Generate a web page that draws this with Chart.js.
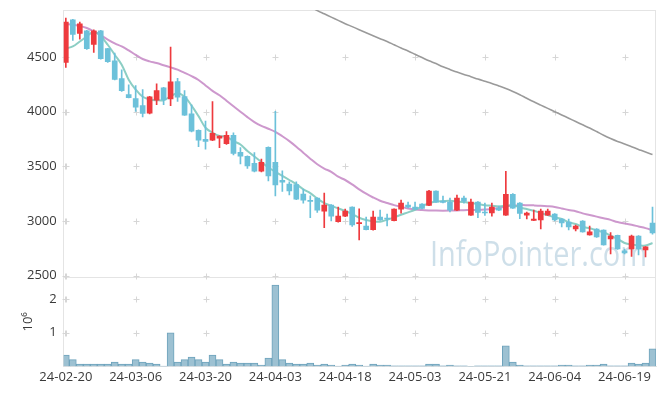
<!DOCTYPE html>
<html lang="ko">
<head>
<meta charset="UTF-8">
<title>Daily candles 24-02-20 ~ 24-06-25</title>
<script src="https://cdn.jsdelivr.net/npm/chart.js"></script>
<style>
  body { margin: 0; background: #fff; }
</style>
</head>
<body>
<canvas id="chart" width="665" height="396"></canvas>
<script>
const dates = [
  '24-02-20','24-02-21','24-02-22','24-02-23','24-02-26','24-02-27','24-02-28','24-02-29',
  '24-03-04','24-03-05','24-03-06','24-03-07','24-03-08','24-03-11','24-03-12','24-03-13','24-03-14','24-03-15',
  '24-03-18','24-03-19','24-03-20','24-03-21','24-03-22','24-03-25','24-03-26','24-03-27','24-03-28','24-03-29',
  '24-04-01','24-04-02','24-04-03','24-04-04','24-04-05','24-04-08','24-04-09','24-04-11','24-04-12','24-04-15',
  '24-04-16','24-04-17','24-04-18','24-04-19','24-04-22','24-04-23','24-04-24','24-04-25','24-04-26','24-04-29','24-04-30',
  '24-05-02','24-05-03','24-05-07','24-05-08','24-05-09','24-05-10','24-05-13','24-05-14','24-05-16','24-05-17',
  '24-05-20','24-05-21','24-05-22','24-05-23','24-05-24','24-05-27','24-05-28','24-05-29','24-05-30','24-05-31',
  '24-06-03','24-06-04','24-06-05','24-06-07','24-06-10','24-06-11','24-06-12','24-06-13','24-06-14','24-06-17',
  '24-06-18','24-06-19','24-06-20','24-06-21','24-06-24','24-06-25'
];

const opens = [
  4451,4840,4715,4740,4615,4740,4576,4466,4302,4157,
  4120,4056,3986,4105,4218,4117,4275,4138,3981,3829,
  3747,3740,3758,3707,3783,3628,3592,3528,3455,3674,
  3537,3373,3337,3334,3246,3185,3209,3090,3145,2993,
  3045,3127,2975,2954,2920,3036,3027,3003,3109,3145,
  3127,3155,3143,3273,3182,3173,3100,3209,3054,3173,
  3082,3073,3118,3054,3245,3164,3054,3006,3009,3054,
  3063,3018,2991,2927,3000,2872,2927,2918,2836,2868,
  2726,2744,2863,2735,2982
];
const highs = [
  4855,4845,4819,4745,4749,4745,4580,4536,4382,4245,
  4239,4202,4140,4254,4222,4591,4305,4193,4063,3835,
  3913,4093,3780,3819,3807,3671,3596,3626,3567,3678,
  4004,3458,3358,3358,3291,3230,3212,3255,3150,3127,
  3109,3130,3112,3036,3090,3100,3063,3112,3191,3173,
  3173,3160,3280,3276,3227,3209,3236,3227,3200,3178,
  3164,3164,3136,3455,3250,3168,3082,3100,3109,3109,
  3068,3022,3018,2963,3003,2954,2930,2920,2895,2872,
  2744,2872,2866,2766,3127
];
const lows = [
  4405,4651,4664,4570,4542,4480,4450,4290,4185,4125,
  4002,3953,3980,4063,4063,4054,4093,3965,3815,3680,
  3656,3735,3671,3700,3604,3522,3480,3450,3450,3367,
  3230,3270,3239,3195,3163,3030,3079,2939,3000,2990,
  3040,2950,2826,2918,2915,3005,2954,3000,3072,3120,
  3105,3110,3140,3170,3165,3083,3095,3163,3050,3030,
  3050,3045,3095,3050,3115,3022,3018,3003,2927,3050,
  3000,2945,2918,2909,2897,2870,2850,2778,2700,2740,
  2699,2675,2690,2671,2880
];
const closes = [
  4819,4706,4803,4576,4740,4485,4457,4296,4193,4129,
  4041,3983,4136,4193,4108,4272,4132,3968,3822,3740,
  3728,3801,3777,3783,3619,3594,3503,3455,3537,3412,
  3330,3355,3276,3200,3191,3179,3100,3145,3045,3045,
  3090,2963,2985,2920,3036,3009,3018,3109,3164,3127,
  3109,3115,3273,3173,3170,3100,3209,3182,3173,3079,
  3073,3127,3100,3245,3118,3070,3073,3018,3091,3091,
  3009,2982,2945,2954,2900,2900,2854,2781,2863,2744,
  2708,2863,2744,2763,2890
];
// volume in millions of shares
const volumes = [
  0.34,0.20,0.07,0.07,0.07,0.07,0.07,0.13,0.07,0.07,
  0.20,0.13,0.10,0.07,0.01,1.00,0.13,0.20,0.28,0.20,
  0.13,0.34,0.20,0.07,0.13,0.10,0.10,0.10,0.04,0.25,
  2.42,0.20,0.10,0.07,0.07,0.10,0.04,0.07,0.04,0.01,
  0.04,0.07,0.04,0.01,0.07,0.04,0.04,0.02,0.02,0.02,
  0.02,0.02,0.07,0.07,0.02,0.04,0.02,0.02,0.005,0.02,
  0.02,0.02,0.02,0.61,0.13,0.04,0.02,0.02,0.02,0.02,
  0.02,0.04,0.04,0.02,0.02,0.04,0.04,0.07,0.02,0.02,
  0.02,0.10,0.07,0.10,0.52
];
const ma5 = [
  4578,4597,4642,4688,4730,4690,4612,4521,4430,4293,
  4202,4136,4111,4105,4105,4141,4168,4136,4056,3959,
  3853,3808,3777,3771,3731,3700,3640,3590,3540,3489,
  3450,3412,3375,3337,3290,3255,3205,3164,3139,3115,
  3091,3063,3030,3009,2997,2994,3012,3033,3057,3079,
  3103,3133,3164,3179,3182,3185,3179,3173,3164,3155,
  3145,3139,3133,3139,3145,3124,3109,3093,3073,3054,
  3033,3018,2988,2972,2948,2933,2915,2897,2866,2836,
  2799,2784,2778,2775,2799
];
const ma20 = [
  4803,4795,4785,4765,4735,4700,4660,4625,4597,4560,
  4520,4482,4460,4445,4425,4405,4384,4355,4325,4290,
  4240,4190,4150,4100,4050,4000,3950,3905,3870,3844,
  3815,3775,3731,3680,3625,3570,3519,3480,3450,3405,
  3375,3335,3290,3250,3215,3185,3165,3145,3130,3115,
  3105,3100,3097,3095,3094,3095,3097,3099,3100,3102,
  3105,3109,3120,3133,3140,3145,3145,3143,3140,3135,
  3128,3115,3100,3090,3070,3055,3040,3025,3010,2990,
  2978,2965,2950,2935,2915
];
const ma60 = [
  null,null,null,null,null,null,null,null,null,null,
  null,null,null,null,null,null,null,null,null,null,
  null,null,null,null,null,null,null,null,null,null,
  null,null,null,null,4990,4960,4925,4895,4865,4835,
  4805,4778,4750,4722,4695,4668,4642,4612,4582,4555,
  4525,4495,4465,4440,4410,4386,4362,4340,4320,4298,
  4278,4258,4235,4212,4185,4155,4122,4090,4060,4030,
  4000,3970,3940,3910,3880,3850,3818,3785,3755,3728,
  3705,3680,3655,3630,3608
];
const priceTicks = [2500, 3000, 3500, 4000, 4500];
const volTicks = [1, 2];
const dateTicks = [0, 10, 20, 30, 40, 50, 60, 70, 80];

const UP = '#ee3a3e', DOWN = '#6cc1da';
const candleColors = closes.map((c, i) => c >= opens[i] ? UP : DOWN);
const xy = arr => arr.map((v, i) => ({ x: i, y: v }));

Chart.defaults.font.family = "'Open Sans', sans-serif";
Chart.defaults.font.size = 13;
Chart.defaults.color = '#3a3a3a';

// no extra room for half tick labels at the pane edges
const noEdgePad = s => { s.paddingTop = 0; s.paddingBottom = 0; };

// plus-shaped grid marks, frame and watermark
const decor = {
  id: 'decor',
  beforeDatasetsDraw(chart) {
    const { ctx, chartArea: a, scales } = chart;
    ctx.save();
    const txt = 'InfoPointer.com';
    ctx.font = '35px "Open Sans"';
    ctx.fillStyle = 'rgba(190,212,225,0.75)';
    const w = ctx.measureText(txt).width;
    ctx.translate(a.right - 226, scales.y.bottom - 11);
    ctx.scale(217 / w, 1);
    ctx.fillText(txt, 0, 0);
    ctx.restore();

    ctx.save();
    ctx.strokeStyle = '#e4e4e4';
    ctx.lineWidth = 1;
    ctx.beginPath();
    ctx.moveTo(a.left, Math.round(a.top) + 0.5); ctx.lineTo(a.right, Math.round(a.top) + 0.5);
    ctx.moveTo(Math.round(a.right) - 0.5, a.top); ctx.lineTo(Math.round(a.right) - 0.5, a.bottom);
    ctx.moveTo(a.left, Math.round(scales.y.bottom) + 0.5); ctx.lineTo(a.right, Math.round(scales.y.bottom) + 0.5);
    ctx.stroke();

    ctx.strokeStyle = '#d6d6d6';
    const xs = [a.left + 1].concat(dateTicks.map(v => scales.x.getPixelForValue(v)));
    const ys = priceTicks.map(v => scales.y.getPixelForValue(v))
      .concat(volTicks.map(v => scales.yv.getPixelForValue(v)));
    ctx.beginPath();
    xs.forEach(px => {
      px = Math.round(px) + 0.5;
      ys.forEach(py => {
        py = Math.round(py) + 0.5;
        ctx.moveTo(px - 3, py); ctx.lineTo(px + 3, py);
        ctx.moveTo(px, py - 3); ctx.lineTo(px, py + 3);
      });
    });
    ctx.stroke();
    ctx.restore();
  }
};

new Chart(document.getElementById('chart'), {
  type: 'bar',
  data: {
    datasets: [
      {
        label: 'body', order: 0, grouped: false, barThickness: 5, minBarLength: 1,
        data: opens.map((o, i) => ({ x: i, y: [o, closes[i]] })),
        backgroundColor: candleColors, borderWidth: 0, yAxisID: 'y'
      },
      {
        label: 'wick', order: 0, grouped: false, barThickness: 1,
        data: lows.map((l, i) => ({ x: i, y: [l, highs[i]] })),
        backgroundColor: candleColors, borderWidth: 0, yAxisID: 'y'
      },
      {
        type: 'line', label: 'MA5', order: 1, data: xy(ma5), yAxisID: 'y',
        borderColor: 'rgba(120,198,186,0.85)', borderWidth: 2, pointRadius: 0, tension: 0.35, clip: 0
      },
      {
        type: 'line', label: 'MA20', order: 1, data: xy(ma20), yAxisID: 'y',
        borderColor: 'rgba(196,134,196,0.85)', borderWidth: 2, pointRadius: 0, tension: 0.35, clip: 0
      },
      {
        type: 'line', label: 'MA60', order: 1, data: xy(ma60), yAxisID: 'y',
        borderColor: '#9a9a9a', borderWidth: 1.6, pointRadius: 0, tension: 0.35, clip: 0
      },
      {
        label: 'volume', order: 2, grouped: false, barThickness: 7,
        data: xy(volumes), yAxisID: 'yv',
        backgroundColor: '#9dc1d2', borderColor: '#6ea3bc', borderWidth: 1
      }
    ]
  },
  options: {
    responsive: false,
    animation: false,
    layout: { padding: { left: 20, right: 9, top: 10, bottom: 8 } },
    plugins: { legend: { display: false }, tooltip: { enabled: false } },
    scales: {
      x: {
        type: 'linear', min: -0.3, max: 84.5, offset: false,
        afterBuildTicks: s => { s.ticks = dateTicks.map(v => ({ value: v })); },
        ticks: { autoSkip: false, maxRotation: 0, padding: 3, callback: v => dates[v] },
        grid: { display: false, drawTicks: false },
        border: { color: '#e4e4e4' }
      },
      yv: {
        type: 'linear', position: 'left', stack: 'main', stackWeight: 1,
        min: 0, max: 2.65,
        afterBuildTicks: s => { s.ticks = volTicks.map(v => ({ value: v })); },
        afterFit: noEdgePad,
        ticks: { padding: 7, callback: v => String(v) },
        title: { display: true, text: '10⁶', padding: { top: 0, bottom: 0 } },
        grid: { display: false, drawTicks: false },
        border: { color: '#e4e4e4' }
      },
      y: {
        type: 'linear', position: 'left', stack: 'main', stackWeight: 3,
        min: 2485, max: 4930,
        afterBuildTicks: s => { s.ticks = priceTicks.map(v => ({ value: v })); },
        afterFit: noEdgePad,
        ticks: { padding: 7, callback: v => String(v) },
        grid: { display: false, drawTicks: false },
        border: { color: '#e4e4e4' }
      }
    }
  },
  plugins: [decor]
});
</script>
</body>
</html>
